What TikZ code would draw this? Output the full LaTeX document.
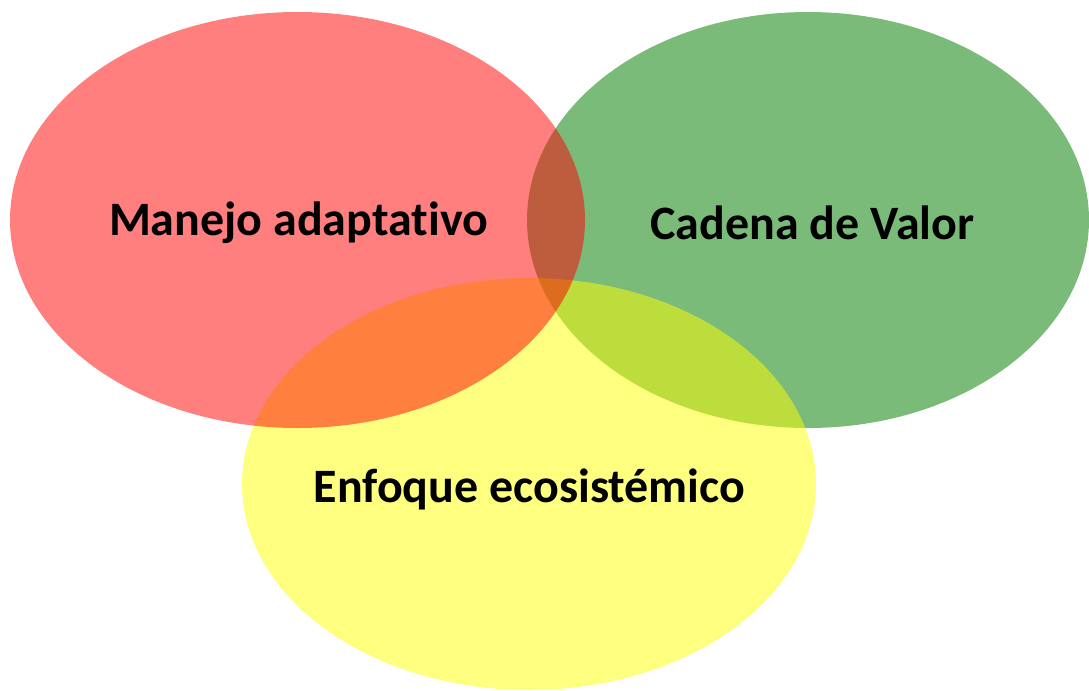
\documentclass[tikz,border=0pt]{standalone}
\usepackage{fontspec}
\setmainfont{Carlito}[Ligatures={NoCommon}, RawFeature={-liga;-calt;-clig}]
\definecolor{vennred}{RGB}{255,0,0}
\definecolor{venngreen}{RGB}{0,124,0}
\definecolor{vennyellow}{RGB}{255,255,0}
\tikzset{
    venn/.style={fill opacity=0.5},
    label/.style={font=\fontsize{27.3}{30}\selectfont\bfseries, text=black}
}
\begin{document}
\begin{tikzpicture}
    % canvas
    \useasboundingbox (0,0) rectangle (21.78,-13.82);
    % circles (green first, red last)
    \fill[venn, venngreen, fill opacity=0.52] (16.16,-4.40) ellipse (5.62 and 4.16);
    \fill[venn, vennyellow] (10.58,-9.68) ellipse (5.74 and 4.12);
    \fill[venn, vennred] (5.95,-4.40) ellipse (5.75 and 4.16);
    % labels
    \node[label] (manejo) at (5.97, -4.46) {Manejo adaptativo};
    \node[label] (cadena) at (16.25, -4.46) {Cadena de Valor};
    \node[label] (enfoque) at (10.59, -9.78) {Enfoque ecosistémico};
\end{tikzpicture}
\end{document}
